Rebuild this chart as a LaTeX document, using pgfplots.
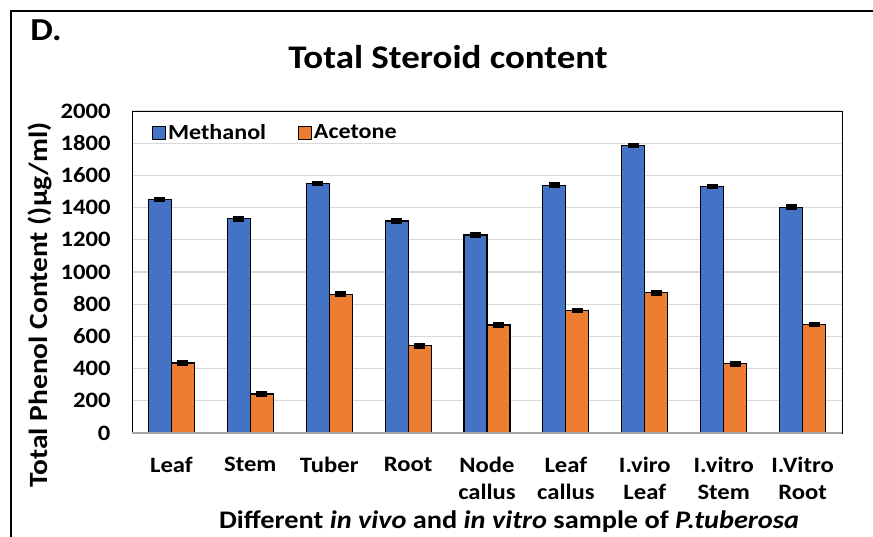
\documentclass[border=0pt]{standalone}
\usepackage{pgfplots}
\pgfplotsset{compat=1.18}
\usepackage{fontspec}
\setmainfont{Carlito}[FakeStretch=1.12]
\definecolor{mblue}{HTML}{4472C4}
\definecolor{morange}{HTML}{ED7D31}
\definecolor{gridc}{HTML}{D9D9D9}
\definecolor{baseg}{HTML}{A6A6A6}
\begin{document}
\begin{tikzpicture}[x=1bp,y=1bp]
\useasboundingbox (0,0) rectangle (873,-537);
\draw[line width=1.3bp] (11,-537) -- (11,-11) -- (873,-11);
\node[font=\fontsize{32bp}{36bp}\selectfont\bfseries] at (46,-30) {D.};
\node[font=\fontsize{33bp}{38bp}\selectfont\bfseries] at (448,-57) {Total Steroid content};
\node[font=\fontsize{25.3bp}{30bp}\selectfont\bfseries] at (509,-522) {Different \textit{in vivo} and \textit{in vitro} sample of \textit{P.tuberosa}};
\node[font=\fontsize{26.3bp}{30bp}\selectfont\bfseries, rotate=90] at (40,-305) {Total Phenol Content ()µg/ml)};
\begin{axis}[
  at={(132bp,-433bp)}, anchor=south west,
  scale only axis, width=710bp, height=322bp,
  ybar=0pt, bar width=23bp,
  xmin=-0.5, xmax=8.5, ymin=0, ymax=2000,
  xtick={0,...,8},
  xticklabels={Leaf,Stem,Tuber,Root,Node\\callus,Leaf\\callus,I.viro\\Leaf,I.vitro\\Stem,I.Vitro\\Root},
  xticklabel style={align=center, font=\fontsize{22bp}{27bp}\selectfont\bfseries, yshift=-21bp},
  ytick={0,200,...,2000},
  yticklabel style={font=\fontsize{22bp}{24bp}\selectfont\bfseries, xshift=-18bp},
  /pgf/number format/assume math mode=true,
  /pgf/number format/1000 sep={},
  major tick length=0pt,
  ymajorgrids, grid style={gridc, line width=1.3bp},
  axis line style={black, line width=0.9bp},
  legend style={at={(0.024,0.972)}, anchor=north west, draw=none, fill=none,
    font=\fontsize{21.5bp}{24bp}\selectfont\bfseries, legend columns=2,
    /tikz/every even column/.append style={column sep=30bp}},
  legend image code/.code={\draw[#1, draw=black, line width=0.9bp] (0bp,-6.5bp) rectangle (13bp,6.5bp);},
  error bars/error bar style={black, line width=1.2bp},
  error bars/error mark options={black, line width=3bp, mark size=5.5bp, rotate=90},
]
\addplot[fill=mblue, draw=black, line width=1.1bp, error bars/.cd, y dir=both, y explicit]
 coordinates {(0,1451) +- (0,8) (1,1331) +- (0,8) (2,1551) +- (0,8) (3,1317) +- (0,8) (4,1230) +- (0,8) (5,1540) +- (0,8) (6,1785) +- (0,8) (7,1530) +- (0,8) (8,1402) +- (0,8)};
\addplot[fill=morange, draw=black, line width=1.1bp, error bars/.cd, y dir=both, y explicit]
 coordinates {(0,435) +- (0,8) (1,242) +- (0,8) (2,863) +- (0,8) (3,542) +- (0,8) (4,671) +- (0,8) (5,760) +- (0,8) (6,871) +- (0,8) (7,430) +- (0,8) (8,673) +- (0,8)};
\legend{Methanol, Acetone}
\draw[baseg, line width=1.6bp] (axis cs:-0.5,0) -- (axis cs:8.5,0);
\end{axis}
\end{tikzpicture}
\end{document}
